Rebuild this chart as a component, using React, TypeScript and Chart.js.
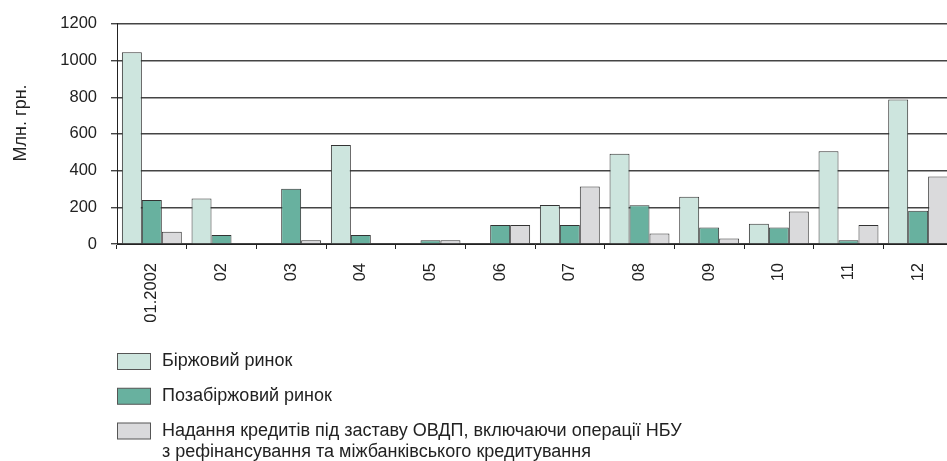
import React, { useEffect, useRef } from 'react';
import { Chart, registerables } from 'chart.js';

Chart.register(...registerables);

const categories = ['01.2002', '02', '03', '04', '05', '06', '07', '08', '09', '10', '11', '12'];
const exchangeMarket = [1045, 248, 0, 540, 0, 0, 212, 492, 258, 110, 506, 788];
const otcMarket = [240, 49, 301, 49, 20, 103, 103, 211, 90, 90, 20, 181];
const ovdpLoans = [67, 0, 20, 0, 20, 103, 313, 57, 30, 177, 103, 368];
const yTickValues = [0, 200, 400, 600, 800, 1000, 1200];
const seriesLabels: (string | string[])[] = [
  'Біржовий ринок',
  'Позабіржовий ринок',
  ['Надання кредитів під заставу ОВДП, включаючи операції НБУ', 'з рефінансування та міжбанківського кредитування'],
];
const axisTitle = 'Млн. грн.';
const seriesColors = ['#cde5de', '#68b19f', '#dadadc'];

const FONT = "'Liberation Sans', Arial, Helvetica, sans-serif";
const TEXT_COLOR = '#222';

const overlayPlugin = {
  id: 'overlay',
  afterDraw(chart: any) {
    const ctx = chart.ctx as CanvasRenderingContext2D;
    const area = chart.chartArea;
    ctx.save();
    // y axis title
    ctx.fillStyle = TEXT_COLOR;
    ctx.font = `18px ${FONT}`;
    ctx.textAlign = 'center';
    ctx.textBaseline = 'middle';
    ctx.translate(21, area.top + 99);
    ctx.rotate(-Math.PI / 2);
    ctx.fillText(axisTitle, 0, 0);
    ctx.restore();

    // legend
    ctx.save();
    const boxX = 117.5;
    const boxW = 33;
    const boxH = 16;
    const startY = area.bottom + 117.5;
    const step = 34.75;
    ctx.font = `18px ${FONT}`;
    ctx.textAlign = 'left';
    ctx.textBaseline = 'middle';
    seriesLabels.forEach((label, i) => {
      const cy = startY + i * step;
      ctx.fillStyle = seriesColors[i];
      ctx.fillRect(boxX, cy - boxH / 2, boxW, boxH);
      ctx.strokeStyle = '#555';
      ctx.lineWidth = 1;
      ctx.strokeRect(boxX, cy - boxH / 2, boxW, boxH);
      ctx.fillStyle = TEXT_COLOR;
      const lines = Array.isArray(label) ? label : [label];
      lines.forEach((ln, j) => {
        ctx.fillText(ln, 162, cy + j * 21);
      });
    });
    ctx.restore();
  },
};

export default function App() {
  const canvasRef = useRef<HTMLCanvasElement | null>(null);

  useEffect(() => {
    document.body.style.margin = '0';
    const canvas = canvasRef.current;
    if (!canvas) return;
    const datasets = [exchangeMarket, otcMarket, ovdpLoans].map((d, i) => ({
      label: Array.isArray(seriesLabels[i]) ? (seriesLabels[i] as string[]).join(' ') : (seriesLabels[i] as string),
      data: d,
      backgroundColor: seriesColors[i],
      borderColor: '#333',
      borderWidth: 1,
      categoryPercentage: 0.86,
      barPercentage: 1,
    }));
    const chart = new Chart(canvas, {
      type: 'bar',
      data: { labels: categories, datasets },
      options: {
        responsive: false,
        animation: false,
        devicePixelRatio: 1,
        layout: { padding: { top: 18, right: 7, left: 0, bottom: 0 } },
        plugins: { legend: { display: false }, tooltip: { enabled: false } },
        scales: {
          x: {
            offset: true,
            grid: { display: true, drawOnChartArea: false, drawTicks: true, tickLength: 5, color: '#222', offset: true },
            border: { color: '#222', width: 1 },
            ticks: {
              maxRotation: 90,
              minRotation: 90,
              autoSkip: false,
              padding: 14,
              color: TEXT_COLOR,
              font: { family: FONT, size: 16.5 },
            },
            afterFit: (s: any) => {
              s.height = 461 - 244;
            },
          },
          y: {
            min: 0,
            max: 1200,
            afterBuildTicks: (s: any) => {
              s.ticks = yTickValues.map((v) => ({ value: v }));
            },
            grid: { color: '#444', lineWidth: 1.4, tickLength: 6 },
            border: { color: '#222', width: 1 },
            ticks: {
              padding: 14,
              color: TEXT_COLOR,
              font: { family: FONT, size: 16.5 },
              callback: (v: any) => String(v),
            },
            afterFit: (s: any) => {
              s.width = 117;
            },
          },
        },
      },
      plugins: [overlayPlugin],
    });
    return () => chart.destroy();
  }, []);

  return (
    <div style={{ width: 947, height: 461, overflow: 'hidden', position: 'relative' }}>
      <canvas ref={canvasRef} width={960} height={461} style={{ display: 'block' }} />
    </div>
  );
}
